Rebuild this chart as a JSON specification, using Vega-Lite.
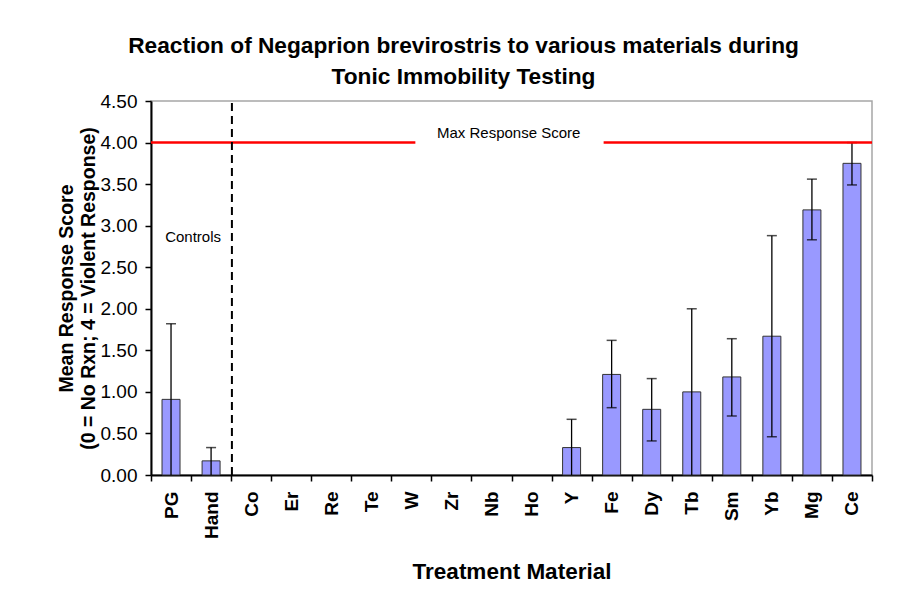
{
  "$schema": "https://vega.github.io/schema/vega-lite/v6.json",
  "autosize": "none",
  "width": 721,
  "height": 374,
  "padding": {"left": 151, "top": 101, "right": 50, "bottom": 122},
  "background": "white",
  "config": {
    "font": "Liberation Sans",
    "view": {"stroke": "#a6a6a6", "strokeWidth": 1.5},
    "axis": {"labelColor": "black", "titleColor": "black", "domainColor": "black", "tickColor": "black", "grid": false, "labelFont": "Liberation Sans", "titleFont": "Liberation Sans"}
  },
  "title": {
    "text": ["Reaction of Negaprion brevirostris to various materials during", "Tonic Immobility Testing"],
    "fontSize": 22.7,
    "fontWeight": "bold",
    "lineHeight": 31,
    "offset": 3,
    "dx": -48,
    "color": "black",
    "font": "Liberation Sans"
  },
  "datasets": {
    "main": [
      {"material": "PG", "mean": 0.91, "lo": 0, "hi": 1.82},
      {"material": "Hand", "mean": 0.17, "lo": 0, "hi": 0.33},
      {"material": "Co", "mean": null, "lo": null, "hi": null},
      {"material": "Er", "mean": null, "lo": null, "hi": null},
      {"material": "Re", "mean": null, "lo": null, "hi": null},
      {"material": "Te", "mean": null, "lo": null, "hi": null},
      {"material": "W", "mean": null, "lo": null, "hi": null},
      {"material": "Zr", "mean": null, "lo": null, "hi": null},
      {"material": "Nb", "mean": null, "lo": null, "hi": null},
      {"material": "Ho", "mean": null, "lo": null, "hi": null},
      {"material": "Y", "mean": 0.33, "lo": 0, "hi": 0.67},
      {"material": "Fe", "mean": 1.21, "lo": 0.81, "hi": 1.62},
      {"material": "Dy", "mean": 0.79, "lo": 0.41, "hi": 1.16},
      {"material": "Tb", "mean": 1.0, "lo": 0, "hi": 2.0},
      {"material": "Sm", "mean": 1.18, "lo": 0.71, "hi": 1.64},
      {"material": "Yb", "mean": 1.67, "lo": 0.46, "hi": 2.88},
      {"material": "Mg", "mean": 3.19, "lo": 2.83, "hi": 3.56},
      {"material": "Ce", "mean": 3.75, "lo": 3.49, "hi": 4.0}
    ],
    "maxline": [
      {"start": 0, "end": 6.6, "score": 4},
      {"start": 11.3, "end": 18, "score": 4}
    ],
    "divider": [
      {"pos": 2.02, "bottom": 0, "top": 4.5}
    ],
    "labels": [
      {"pos": 8.93, "score": 4.07, "label": "Max Response Score"},
      {"pos": 1.05, "score": 2.81, "label": "Controls"}
    ]
  },
  "resolve": {"scale": {"x": "independent"}, "axis": {"x": "independent"}},
  "layer": [
    {
      "data": {"name": "main"},
      "layer": [
        {
          "mark": {"type": "bar", "size": 18, "fill": "#9999FF", "stroke": "#333333", "strokeWidth": 1},
          "encoding": {
            "x": {
              "field": "material", "type": "nominal", "sort": null,
              "scale": {"domain": ["PG","Hand","Co","Er","Re","Te","W","Zr","Nb","Ho","Y","Fe","Dy","Tb","Sm","Yb","Mg","Ce"], "paddingInner": 0, "paddingOuter": 0},
              "axis": {
                "title": "Treatment Material", "titleFontSize": 22.5, "titleFontWeight": "bold", "titlePadding": 22,
                "labelAngle": -90, "labelAlign": "right", "labelBaseline": "middle", "labelFontSize": 19, "labelFontWeight": "bold",
                "labelPadding": 10, "tickBand": "extent", "tickSize": 6, "tickWidth": 1.5, "domainWidth": 2
              }
            },
            "y": {
              "field": "mean", "type": "quantitative",
              "scale": {"domain": [0, 4.5], "nice": false},
              "axis": {
                "title": ["Mean Response Score", "(0 = No Rxn; 4 = Violent Response)"], "titleFontSize": 19.5, "titleFontWeight": "bold", "titleLineHeight": 22, "titlePadding": 2,
                "values": [0, 0.5, 1, 1.5, 2, 2.5, 3, 3.5, 4, 4.5], "format": ".2f", "labelFontSize": 19, "labelPadding": 8,
                "tickSize": 6, "tickWidth": 1.5, "domainWidth": 2
              }
            }
          }
        },
        {
          "mark": {"type": "rule", "color": "black", "strokeWidth": 1.3},
          "encoding": {
            "x": {"field": "material", "type": "nominal", "sort": null},
            "y": {"field": "lo", "type": "quantitative"},
            "y2": {"field": "hi"}
          }
        },
        {
          "mark": {"type": "tick", "color": "black", "size": 10, "thickness": 1.5},
          "encoding": {
            "x": {"field": "material", "type": "nominal", "sort": null},
            "y": {"field": "hi", "type": "quantitative"}
          }
        },
        {
          "transform": [{"filter": "datum.lo > 0"}],
          "mark": {"type": "tick", "color": "black", "size": 10, "thickness": 1.5},
          "encoding": {
            "x": {"field": "material", "type": "nominal", "sort": null},
            "y": {"field": "lo", "type": "quantitative"}
          }
        }
      ]
    },
    {
      "layer": [
        {
          "data": {"name": "maxline"},
          "mark": {"type": "rule", "color": "#FF0000", "strokeWidth": 2.5},
          "encoding": {
            "x": {"field": "start", "type": "quantitative", "scale": {"domain": [0, 18], "nice": false, "zero": false}, "axis": null},
            "x2": {"field": "end"},
            "y": {"field": "score", "type": "quantitative"}
          }
        },
        {
          "data": {"name": "divider"},
          "mark": {"type": "rule", "color": "black", "strokeWidth": 2, "strokeDash": [8, 5]},
          "encoding": {
            "x": {"field": "pos", "type": "quantitative", "scale": {"domain": [0, 18], "nice": false, "zero": false}, "axis": null},
            "y": {"field": "bottom", "type": "quantitative"},
            "y2": {"field": "top"}
          }
        },
        {
          "data": {"name": "labels"},
          "mark": {"type": "text", "fontSize": 15, "color": "black", "align": "center", "baseline": "bottom", "dy": 4},
          "encoding": {
            "x": {"field": "pos", "type": "quantitative", "scale": {"domain": [0, 18], "nice": false, "zero": false}, "axis": null},
            "y": {"field": "score", "type": "quantitative"},
            "text": {"field": "label"}
          }
        }
      ]
    }
  ]
}
